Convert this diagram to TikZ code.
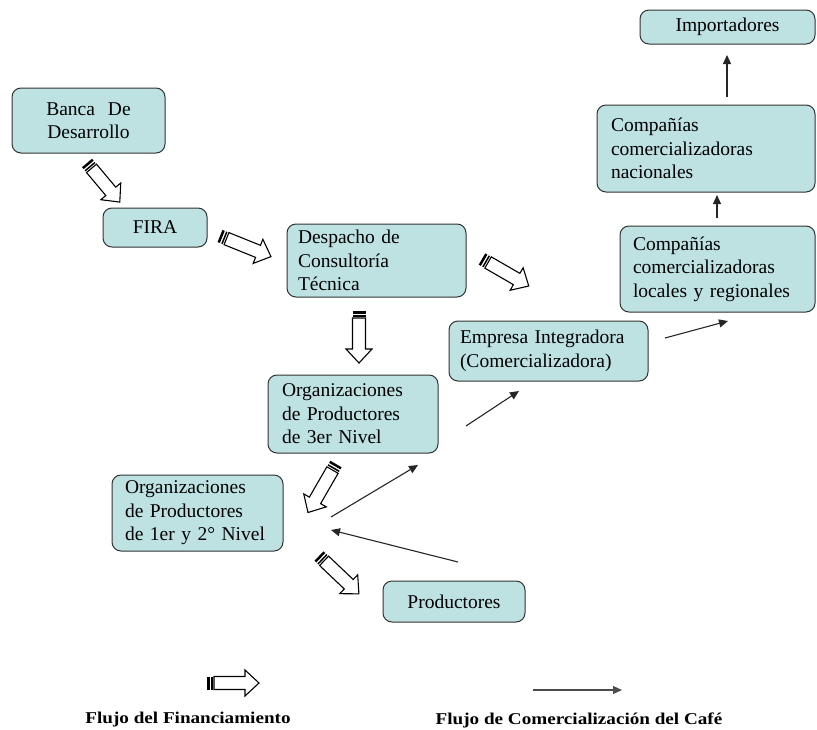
\documentclass[tikz,border=0pt]{standalone}
\usepackage{fontspec}
\setmainfont{Liberation Serif}
\usetikzlibrary{arrows.meta}
\definecolor{boxfill}{RGB}{190,226,226}
\definecolor{boxline}{RGB}{50,50,50}
\tikzset{
  box/.style={draw=boxline, line width=1pt, fill=boxfill, rounded corners=9pt,
    font=\fontsize{19.5}{23.5}\selectfont, align=left, inner ysep=2pt},
  thin/.style={draw=black!85, line width=1.1pt, -{Triangle[length=9pt,width=8pt]}},
  farrow/.pic={
    \fill[black] (0,-6.5) rectangle (2.5,6.5);
    \fill[black] (4,-6.5) rectangle (5.5,6.5);
    \draw[line width=1.1pt, fill=white, line join=miter]
      (7,-6.5) -- ({#1-14},-6.5) -- ({#1-14},-13) -- (#1,0) -- ({#1-14},13)
      -- ({#1-14},6.5) -- (7,6.5) -- cycle;
  },
  legendtext/.style={font=\bfseries\fontsize{16.5}{19}\selectfont, inner sep=0pt}
}
\begin{document}
\begin{tikzpicture}[x=1pt,y=-1pt]
\useasboundingbox (0,0) rectangle (817,729);

% boxes
\node[box, align=center, text width=161pt, inner xsep=7pt, minimum height=34pt] (imp) at (727.5,27) {Importadores};
\node[box, align=center, text width=139pt, inner xsep=7pt, minimum height=65pt] (banca) at (88.5,120.5) {Banca\ \ De\\Desarrollo};
\node[box, align=center, text width=90pt, inner xsep=7pt, minimum height=39pt] (fira) at (155,227.5) {FIRA};
\node[box, text width=157pt, inner xsep=11pt, minimum height=73pt] (desp) at (376.5,260.5) {Despacho de\\Consultoría\\Técnica};
\node[box, text width=190pt, inner xsep=14pt, minimum height=87pt] (nac) at (706,148.5) {Compañías\\comercializadoras\\nacionales};
\node[box, text width=169pt, inner xsep=13pt, minimum height=86pt] (loc) at (717.5,269) {Compañías\\comercializadoras\\locales y regionales};
\node[box, text width=177pt, inner xsep=11pt, minimum height=60pt] (emp) at (548.5,351) {Empresa Integradora\\(Comercializadora)};
\node[box, text width=142pt, inner xsep=14pt, minimum height=78pt] (o3) at (353,414) {Organizaciones\\de Productores\\de 3er Nivel};
\node[box, text width=145pt, inner xsep=13pt, minimum height=76pt] (o1) at (197.5,513) {Organizaciones\\de Productores\\de 1er y 2° Nivel};
\node[box, align=center, text width=128pt, inner xsep=7pt, minimum height=41pt] (prod) at (454,601.5) {Productores};

% financing (hollow striped) arrows
\pic[rotate=-50] (fa1) at (87,163) {farrow=51};
\pic[rotate=-22] (fa2) at (220,236) {farrow=55};
\pic[rotate=-30] (fa3) at (482,259) {farrow=54};
\pic[rotate=-90] (fa4) at (359,311) {farrow=52};
\pic[rotate=-120] (fa5) at (336,464) {farrow=56};
\pic[rotate=-43.5] (fa6) at (319,556) {farrow=55};

% commercial flow arrows
\coordinate (t1a) at (727,97);  \coordinate (t1b) at (727,55);
\coordinate (t2a) at (717,218); \coordinate (t2b) at (717,195);
\coordinate (t3a) at (665,338); \coordinate (t3b) at (728,321);
\coordinate (t4a) at (466,426); \coordinate (t4b) at (519,391);
\coordinate (t5a) at (331,517); \coordinate (t5b) at (418,465);
\coordinate (t6a) at (458,562); \coordinate (t6b) at (331,530);
\draw[thin] (t1a) -- (t1b);
\draw[thin] (t2a) -- (t2b);
\draw[thin] (t3a) -- (t3b);
\draw[thin] (t4a) -- (t4b);
\draw[thin] (t5a) -- (t5b);
\draw[thin] (t6a) -- (t6b);

% legend
\pic (lfa) at (207,683) {farrow=52};
\coordinate (lta) at (533,690); \coordinate (ltb) at (622,690);
\draw[thin, draw=black!70] (lta) -- (ltb);
\node[legendtext] (lf) at (188,720) {\scalebox{1.16}[1]{Flujo del Financiamiento}};
\node[legendtext] (lc) at (579,720) {\scalebox{1.16}[1]{Flujo de Comercialización del Café}};
\end{tikzpicture}
\end{document}
